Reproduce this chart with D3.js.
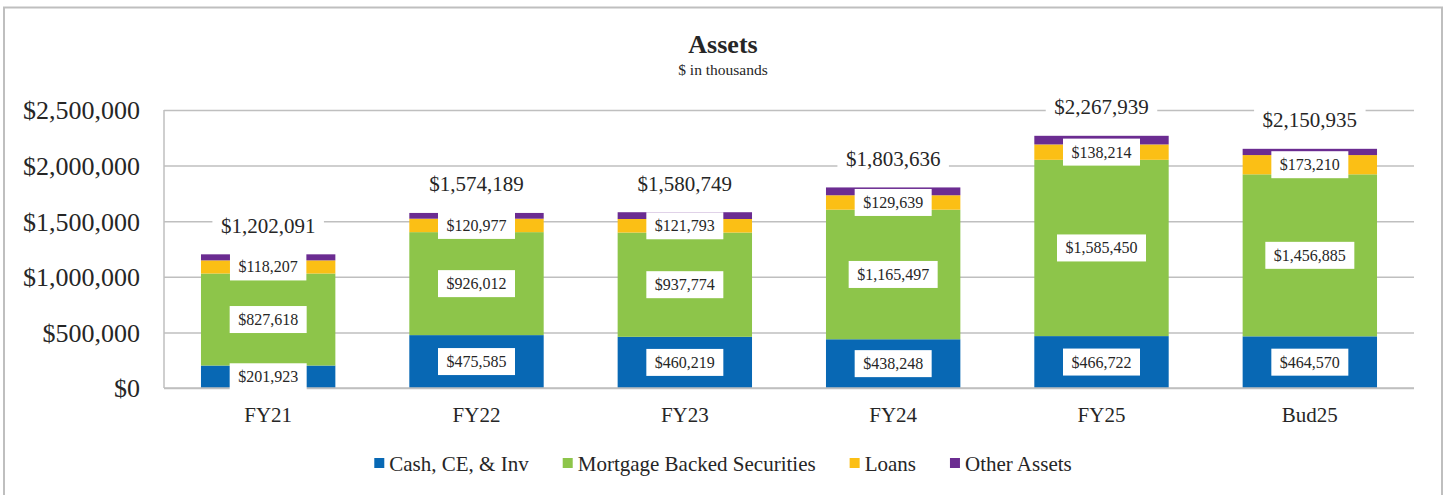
<!DOCTYPE html>
<html>
<head>
<meta charset="utf-8">
<script src="https://cdn.jsdelivr.net/npm/d3@7"></script>
<style>
  body { margin: 0; background: #fff; }
  svg text { font-family: "Liberation Serif", Tinos, "Times New Roman", "DejaVu Serif", serif; fill: #262626; }
</style>
</head>
<body>
<div id="chart"></div>
<script>
// data ($ in thousands)
var years = ["FY21", "FY22", "FY23", "FY24", "FY25", "Bud25"];
var cash = [201923, 475585, 460219, 438248, 466722, 464570];
var mbs = [827618, 926012, 937774, 1165497, 1585450, 1456885];
var loans = [118207, 120977, 121793, 129639, 138214, 173210];
var other = [54343, 51615, 60963, 70252, 77553, 56270];
var seriesNames = ["Cash, CE, & Inv", "Mortgage Backed Securities", "Loans", "Other Assets"];
var seriesColors = ["#0868B4", "#8DC54A", "#FBBF15", "#6B2C91"];
var yTicks = [0, 500000, 1000000, 1500000, 2000000, 2500000];

var serif = '"Liberation Serif", Tinos, "Times New Roman", "DejaVu Serif", serif';

var W = 1450, H = 495;
var margin = {top: 110, right: 36, bottom: 107, left: 164};

var svg = d3.select("#chart")
  .append("svg")
  .attr("width", W)
  .attr("height", H);

// outer chart border
svg.append("rect")
  .attr("x", 4).attr("y", 7.5)
  .attr("width", 1438).attr("height", 500)
  .attr("fill", "none")
  .attr("stroke", "#BFBFBF")
  .attr("stroke-width", 2);

// title
svg.append("text")
  .attr("x", 723).attr("y", 53)
  .attr("text-anchor", "middle")
  .style("font-size", "26px")
  .style("font-weight", "bold")
  .text("Assets");
svg.append("text")
  .attr("x", 723).attr("y", 75)
  .attr("text-anchor", "middle")
  .style("font-size", "15.5px")
  .text("$ in thousands");

var g = svg.append("g")
  .attr("transform", "translate(" + margin.left + "," + margin.top + ")");

var width = W - margin.left - margin.right,
    height = 388 - margin.top;

var x = d3.scaleBand()
  .domain(years)
  .range([0, width])
  .paddingInner(0.355)
  .paddingOuter(0.1775);

var y = d3.scaleLinear()
  .domain([0, 2500000])
  .range([height, 0]);

// gridlines
g.append("g")
  .call(d3.axisLeft(y).tickValues(yTicks).tickSize(-width).tickFormat(""))
  .call(function(a) {
    a.select(".domain").remove();
    a.selectAll("line").attr("stroke", "#BFBFBF").attr("stroke-width", 1.5);
  });

// left axis line
g.append("line")
  .attr("x1", 0).attr("x2", 0)
  .attr("y1", 0).attr("y2", height)
  .attr("stroke", "#BFBFBF").attr("stroke-width", 1.5);

// y tick labels
g.append("g")
  .attr("font-family", null)
  .call(d3.axisLeft(y).tickValues(yTicks).tickSize(0).tickPadding(24)
    .tickFormat(function(d) { return "$" + d3.format(",")(d); }))
  .call(function(a) {
    a.select(".domain").remove();
    a.selectAll("text")
      .style("font-size", "26px")
      .style("font-family", serif)
      .attr("fill", "#262626")
      .attr("dy", "0.34em");
  });

// stacked data
var rows = years.map(function(yr, i) {
  return {year: yr, s0: cash[i], s1: mbs[i], s2: loans[i], s3: other[i]};
});
var keys = ["s0", "s1", "s2", "s3"];
var stack = d3.stack().keys(keys)(rows);

var layers = g.selectAll(".layer")
  .data(stack)
  .enter().append("g")
  .attr("fill", function(d, i) { return seriesColors[i]; });

layers.selectAll("rect")
  .data(function(d) { return d; })
  .enter().append("rect")
  .attr("x", function(d) { return x(d.data.year); })
  .attr("y", function(d) { return y(d[1]); })
  .attr("width", x.bandwidth())
  .attr("height", function(d) { return y(d[0]) - y(d[1]); });

// x axis line
g.append("line")
  .attr("x1", 0).attr("x2", width)
  .attr("y1", height).attr("y2", height)
  .attr("stroke", "#BFBFBF").attr("stroke-width", 1.5);

// x labels
g.append("g")
  .attr("transform", "translate(0," + height + ")")
  .call(d3.axisBottom(x).tickSize(0).tickPadding(0))
  .call(function(a) {
    a.select(".domain").remove();
    a.selectAll("text")
      .style("font-size", "21px")
      .style("font-family", serif)
      .attr("fill", "#262626")
      .attr("y", 33.5)
      .attr("dy", 0);
  });

var fmt = function(v) { return "$" + d3.format(",")(v); };

// segment labels (first three series)
stack.slice(0, 3).forEach(function(layer) {
  layer.forEach(function(d) {
    var cx = x(d.data.year) + x.bandwidth() / 2;
    var cy = (y(d[0]) + y(d[1])) / 2;
    var lg = g.append("g");
    var t = lg.append("text")
      .attr("x", cx).attr("y", cy + 5.5)
      .attr("text-anchor", "middle")
      .style("font-size", "16px")
      .text(fmt(d[1] - d[0]));
    var w = t.node().getComputedTextLength() + 17;
    lg.insert("rect", "text")
      .attr("x", cx - w / 2).attr("y", cy - 13.5)
      .attr("width", w).attr("height", 27)
      .attr("fill", "#fff");
  });
});

// total labels
rows.forEach(function(r) {
  var total = r.s0 + r.s1 + r.s2 + r.s3;
  var cx = x(r.year) + x.bandwidth() / 2;
  var by = y(total) - 21.5;
  var lg = g.append("g");
  var t = lg.append("text")
    .attr("x", cx).attr("y", by)
    .attr("text-anchor", "middle")
    .style("font-size", "21px")
    .text(fmt(total));
  var w = t.node().getComputedTextLength() + 17;
  lg.insert("rect", "text")
    .attr("x", cx - w / 2).attr("y", by - 21)
    .attr("width", w).attr("height", 28)
    .attr("fill", "#fff");
});

// legend
var legend = svg.append("g");
var lx = 0;
seriesNames.forEach(function(name, i) {
  var item = legend.append("g").attr("transform", "translate(" + lx + ",0)");
  item.append("rect")
    .attr("x", 0).attr("y", 458)
    .attr("width", 10).attr("height", 10)
    .attr("fill", seriesColors[i]);
  var t = item.append("text")
    .attr("x", 15).attr("y", 470.5)
    .style("font-size", "21px")
    .text(name);
  lx += 15 + t.node().getComputedTextLength() + 34;
});
var legendW = lx - 34;
legend.attr("transform", "translate(" + (723 - legendW / 2) + ",0)");
</script>
</body>
</html>
